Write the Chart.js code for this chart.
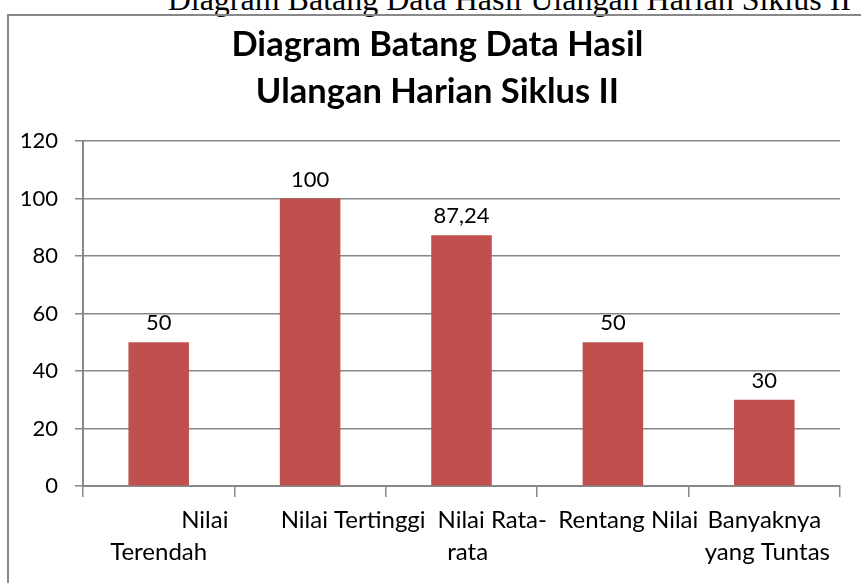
<!DOCTYPE html>
<html>
<head>
<meta charset="utf-8">
<script src="https://cdn.jsdelivr.net/npm/chart.js@4.4.1/dist/chart.umd.min.js"></script>
<style>
  html, body { margin: 0; padding: 0; background: #fff; overflow: hidden; }
  #wrap { position: relative; width: 861px; height: 583px; overflow: hidden; }
  #caption { position: absolute; right: 10px; top: -17px; font: 32px "Liberation Serif", serif; line-height: 1; white-space: nowrap; color: #000; }
  #box { position: absolute; left: 7px; top: 14px; width: 900px; height: 620px; border: 2px solid #888; box-sizing: border-box; }
  #chart { position: absolute; left: 0; top: 0; }
</style>
</head>
<body>
<div id="wrap">
  <div id="caption">Diagram Batang Data Hasil Ulangan Harian Siklus II</div>
  <div id="box"></div>
  <canvas id="chart" width="861" height="583"></canvas>
</div>
<script>
const titleLines = ['Diagram Batang Data Hasil', 'Ulangan Harian Siklus II'];
const categories = [['Nilai', 'Terendah'], ['Nilai Tertinggi'], ['Nilai Rata-', 'rata'], ['Rentang Nilai'], ['Banyaknya', 'yang Tuntas']];
const values = [50, 100, 87.24, 50, 30];
const yMin = 0;
const yMax = 120;
const yStep = 20;

const barColor = '#C0504D';
const lineColor = '#888888';
const font = 'Lato';

// the original (Excel) labels sit off-centre; nudge lines right with leading spaces
const labelShift = [[15, 0], [14], [10, 2], [5], [0, 1]];

// value labels above each bar, decimal comma like the original
const valueLabels = {
  id: 'valueLabels',
  afterDatasetsDraw(chart) {
    const ctx = chart.ctx;
    const meta = chart.getDatasetMeta(0);
    ctx.save();
    ctx.font = '22px ' + font;
    ctx.fillStyle = '#000';
    ctx.textAlign = 'center';
    ctx.textBaseline = 'middle';
    meta.data.forEach((bar, i) => {
      ctx.fillText(String(values[i]).replace('.', ','), bar.x, bar.y - 19);
    });
    ctx.restore();
  }
};

new Chart(document.getElementById('chart'), {
  type: 'bar',
  data: {
    labels: categories,
    datasets: [{
      data: values,
      backgroundColor: barColor,
      borderWidth: 0,
      categoryPercentage: 1,
      barPercentage: 0.4
    }]
  },
  options: {
    responsive: false,
    animation: false,
    layout: { padding: { left: 18, right: 21, top: 0, bottom: 0 } },
    plugins: {
      legend: { display: false },
      tooltip: { enabled: false },
      title: {
        display: true,
        text: titleLines.map(l => '  ' + l),
        color: '#000',
        font: { family: font, size: 34.5, weight: 'bold', lineHeight: 1.362 },
        padding: { top: 21.5, bottom: 25.5 }
      }
    },
    scales: {
      x: {
        grid: { display: true, drawOnChartArea: false, drawTicks: true, tickLength: 11, color: lineColor, lineWidth: 1.5, offset: true },
        border: { color: lineColor, width: 2 },
        ticks: {
          color: '#000',
          font: { family: font, size: 24, lineHeight: 1.333 },
          padding: 7,
          maxRotation: 0,
          autoSkip: false,
          callback: (v, i) => categories[i].map((line, j) => ' '.repeat(labelShift[i][j]) + line)
        },
        afterFit(scale) { scale.height = 97; }
      },
      y: {
        min: yMin,
        max: yMax,
        ticks: { stepSize: yStep, color: '#000', font: { family: font, size: 22 }, padding: 17 },
        grid: { color: lineColor, lineWidth: 1.5, tickLength: 8 },
        border: { color: lineColor, width: 2 },
        afterFit(scale) { scale.width = 65; }
      }
    }
  },
  plugins: [valueLabels]
});
</script>
</body>
</html>
